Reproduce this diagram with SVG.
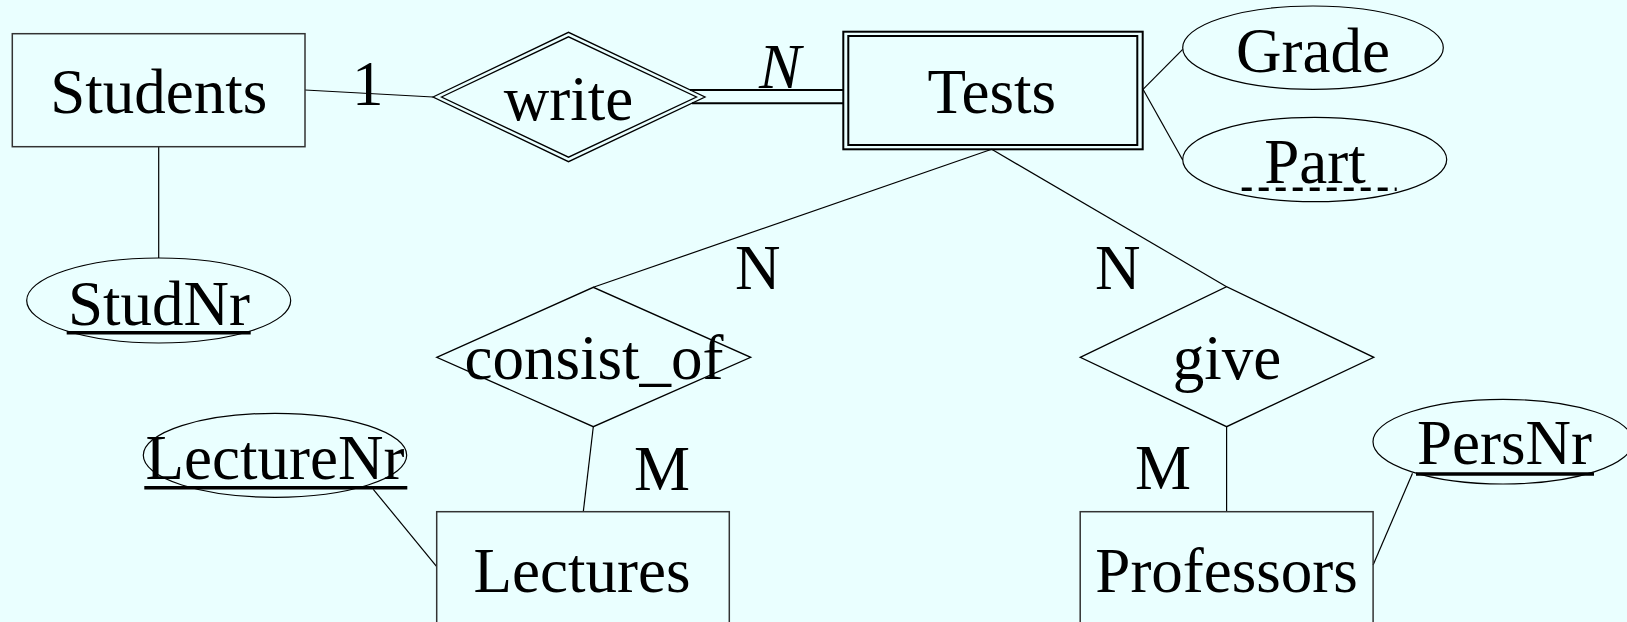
<svg xmlns="http://www.w3.org/2000/svg" width="1627" height="622" viewBox="0 0 1627 622">
<style>
text{font-family:"Liberation Serif","Times New Roman",serif;font-size:63px;fill:#000}
.ent{fill:none;stroke:#333;stroke-width:1.5}
.rel{fill:none;stroke:#000;stroke-width:1.3}
.attr{fill:none;stroke:#000;stroke-width:1.2}
.ln{fill:none;stroke:#000;stroke-width:1.2}
.ul{stroke:#000;stroke-width:3.5}
</style>
<rect width="1627" height="622" fill="#eaffff"/>
<g id="connectors">
<line class="ln" x1="305" y1="90" x2="433" y2="97"/>
<line class="ln" x1="158.7" y1="147" x2="158.7" y2="258"/>
<line class="ln" x1="690" y1="90" x2="843" y2="90" style="stroke-width:2"/>
<line class="ln" x1="692" y1="103.3" x2="843" y2="103.3" style="stroke-width:2"/>
<line class="ln" x1="1143" y1="89.3" x2="1182.7" y2="49.3"/>
<line class="ln" x1="1143" y1="89.3" x2="1182.7" y2="160"/>
<line class="ln" x1="991.7" y1="149.3" x2="593.3" y2="287.3"/>
<line class="ln" x1="991.7" y1="149.3" x2="1226.6" y2="286.7"/>
<line class="ln" x1="593.3" y1="426.7" x2="583.3" y2="511.7"/>
<line class="ln" x1="1226.6" y1="426.7" x2="1226.6" y2="511.7"/>
<line class="ln" x1="373.3" y1="489.3" x2="436.7" y2="566.7"/>
<line class="ln" x1="1412.5" y1="473.3" x2="1373.1" y2="565"/>
<text x="352" y="105">1</text>
<text x="759" y="88.3" font-style="italic">N</text>
<text x="735" y="289.3">N</text>
<text x="634" y="490">M</text>
<text x="1095" y="289.3">N</text>
<text x="1135" y="489.3">M</text>
</g>
<g id="students">
<rect class="ent" x="12.3" y="33.7" width="292.7" height="113"/>
<text x="158.7" y="113" text-anchor="middle">Students</text>
</g>
<g id="studnr">
<ellipse class="attr" cx="158.7" cy="300.5" rx="132" ry="42.5"/>
<text x="159" y="325" text-anchor="middle">StudNr</text>
<line class="ul" x1="66.7" y1="332.7" x2="250.7" y2="332.7"/>
</g>
<g id="write">
<polygon class="rel" points="433,97 568.5,32.3 705,97 568.5,161.7"/>
<polygon class="rel" points="441.5,97 568.5,36.8 696.5,97 568.5,157.2"/>
<text x="568.5" y="120" text-anchor="middle">write</text>
</g>
<g id="tests">
<rect class="ent" x="843.3" y="31.7" width="299.4" height="117.6" style="stroke:#000;stroke-width:2"/>
<rect class="ent" x="848.3" y="36" width="289" height="109" style="stroke:#000;stroke-width:2"/>
<text x="991.7" y="113.3" text-anchor="middle">Tests</text>
</g>
<g id="grade">
<ellipse class="attr" cx="1313" cy="47.7" rx="130.3" ry="41.7"/>
<text x="1313" y="71.7" text-anchor="middle">Grade</text>
</g>
<g id="part">
<ellipse class="attr" cx="1314.7" cy="159.5" rx="132" ry="42.2"/>
<text x="1315" y="182.7" text-anchor="middle">Part</text>
<line class="ul" x1="1241.7" y1="189.3" x2="1396.7" y2="189.3" stroke-dasharray="10 7"/>
</g>
<g id="consist_of">
<polygon class="rel" points="436.7,357.3 593.3,287.3 750.7,357.3 593.3,426.7"/>
<text x="594" y="379.3" text-anchor="middle">consist_of</text>
</g>
<g id="give">
<polygon class="rel" points="1080.2,357.3 1226.6,286.7 1373.8,357.3 1226.6,426.7"/>
<text x="1227" y="379.3" text-anchor="middle">give</text>
</g>
<g id="lectures">
<rect class="ent" x="436.7" y="511.7" width="292.6" height="130"/>
<text x="582" y="591.7" text-anchor="middle">Lectures</text>
</g>
<g id="lecturenr">
<ellipse class="attr" cx="275" cy="455.3" rx="131.7" ry="42"/>
<text x="275" y="479.3" text-anchor="middle">LectureNr</text>
<line class="ul" x1="144.3" y1="487.7" x2="407.3" y2="487.7"/>
</g>
<g id="professors">
<rect class="ent" x="1080.2" y="511.7" width="292.9" height="130"/>
<text x="1226.6" y="591.7" text-anchor="middle">Professors</text>
</g>
<g id="persnr">
<ellipse class="attr" cx="1503" cy="441.7" rx="130" ry="42.3"/>
<text x="1504.5" y="464" text-anchor="middle">PersNr</text>
<line class="ul" x1="1416" y1="474" x2="1594" y2="474"/>
</g>
</svg>
